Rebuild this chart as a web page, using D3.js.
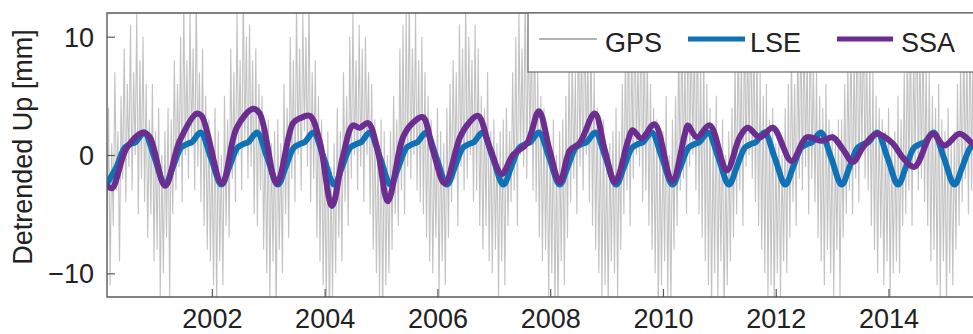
<!DOCTYPE html>
<html>
<head>
<meta charset="utf-8">
<script src="https://cdn.jsdelivr.net/npm/d3@7"></script>
<style>
  html, body { margin: 0; padding: 0; background: #fff; }
  svg { display: block; }
  text { font-family: "Liberation Sans", Arial, sans-serif; fill: #222; }
</style>
</head>
<body>
<svg id="chart" width="973" height="334"></svg>
<script>
// ---------------- data ----------------
const xTickYears = [2002, 2004, 2006, 2008, 2010, 2012, 2014];
const yTickValues = [-10, 0, 10];
const legendLabels = ["GPS", "LSE", "SSA"];

// GPS detrended Up: start year and sampling step (years), values in mm
const gpsStart = 2000.14;
const gpsStep = 1 / 36;
const gpsValues = [
  -8, 4, -11, 1, -6, 7, -3, 2, -9, 5, -2, 9, -4, 6, -1, 11, -3, 7, 0, 12, -5, 8, -2, 10, -4, 6, -7, 3, -5, 6, -9, 2, -8, 4, -12, 0,
  -10, 2, -7, 4, -12, 3, -5, 8, -3, 6, -1, 10, -4, 13, 0, 8, -2, 12, 1, 9, -3, 14, -1, 7, -4, 9, -6, 5, -8, 3, -9, 1, -11, 4, -13, 2,
  -9, 0, -11, 5, -6, 3, -7, 9, -2, 7, -4, 12, 0, 8, -3, 14, 1, 10, -2, 11, -1, 8, -5, 9, -6, 6, -3, 5, -8, 2, -10, 3, -12, 1, -9, 2,
  -14, 3, -8, 1, -10, 6, -5, 4, -7, 10, -2, 8, -4, 13, 0, 9, -3, 12, 2, 10, -1, 14, -4, 7, -2, 8, -7, 5, -9, 3, -11, 0, -13, 2, -15, -1,
  -12, 1, -10, 4, -7, 2, -9, 7, -4, 5, -6, 10, -2, 12, 0, 8, -3, 11, -1, 9, -4, 10, 0, 7, -5, 6, -8, 3, -10, 1, -12, 3, -14, 2, -11, 0,
  -10, 2, -8, 5, -5, 3, -6, 9, -3, 11, -5, 12, -1, 14, -2, 9, 0, 12, -3, 8, -4, 10, -5, 7, -7, 5, -9, 3, -10, 1, -7, 4, -12, 2, -9, 1,
  -11, 4, -7, 6, -4, 8, -2, 7, -6, 11, -1, 9, -3, 13, -2, 10, 0, 8, -4, 11, -3, 9, -6, 5, -8, 4, -6, 7, -9, 2, -10, 3, -8, 1, -12, 2,
  -9, 3, -11, 4, -6, 2, -4, 7, -3, 10, -6, 12, 0, 9, -1, 14, -2, 11, 1, 10, -3, 12, -4, 7, -7, 5, -9, 4, -8, 2, -12, 1, -10, 3, -13, 0,
  -14, 2, -9, 3, -11, 5, -7, 8, -4, 9, -2, 7, -5, 12, -1, 10, -3, 13, 0, 9, -4, 11, -6, 7, -8, 4, -10, 2, -12, 3, -11, 0, -13, 1, -9, 2,
  -10, 4, -12, 2, -8, 6, -5, 9, -3, 12, -6, 10, -2, 13, 0, 8, -1, 14, -4, 11, -3, 9, -6, 6, -8, 4, -10, 3, -13, 1, -11, 2, -9, 5, -12, 0,
  -13, 3, -8, 5, -6, 10, -3, 12, -2, 9, -5, 14, -1, 11, 0, 10, -3, 12, -5, 8, -7, 9, -9, 6, -11, 4, -13, 2, -10, 5, -12, 1, -9, 3, -14, 0,
  -11, 2, -9, 4, -7, 8, -5, 11, -3, 9, -6, 12, -1, 10, 0, 13, -2, 11, -4, 9, -6, 7, -8, 5, -10, 6, -12, 3, -11, 4, -13, 1, -10, 2, -12, 0,
  -9, 4, -10, 6, -7, 9, -4, 6, -6, 10, -2, 12, -3, 11, -1, 9, -5, 13, -2, 8, -4, 7, -7, 5, -9, 4, -11, 6, -8, 3, -10, 2, -12, 1, -8, 3,
  -12, 3, -7, 6, -5, 8, -3, 11, -5, 9, -2, 13, -4, 10, 0, 12, -2, 9, -3, 8, -6, 7, -8, 5, -10, 4, -7, 3, -11, 2, -9, 4, -12, 1, -10, 2,
  -9, 5, -10, 3, -6, 7, -5, 10, -3, 12, -6, 9, -1, 14, -3, 10, -2, 11, -4, 8, -6, 7, -9, 5, -8, 4, -11, 6, -12, 3, -9, 2, -13, 4, -10, 1,
  -11, 2, -8, 6, -6, 8, -4, 10, -2, 9, -5, 12, -3, 11, -1, 8, -4, 10, -6, 7, -8, 5, -7, 4
];

// LSE (seasonal model) key points
const lseYears = [
  2000.14, 2000.31, 2000.45, 2000.55, 2000.65, 2000.80, 2000.98,
  2001.17, 2001.31, 2001.45, 2001.55, 2001.65, 2001.80, 2001.98,
  2002.17, 2002.31, 2002.45, 2002.55, 2002.65, 2002.80, 2002.98,
  2003.17, 2003.31, 2003.45, 2003.55, 2003.65, 2003.80, 2003.98,
  2004.17, 2004.31, 2004.45, 2004.55, 2004.65, 2004.80, 2004.98,
  2005.17, 2005.31, 2005.45, 2005.55, 2005.65, 2005.80, 2005.98,
  2006.17, 2006.31, 2006.45, 2006.55, 2006.65, 2006.80, 2006.98,
  2007.17, 2007.31, 2007.45, 2007.55, 2007.65, 2007.80, 2007.98,
  2008.17, 2008.31, 2008.45, 2008.55, 2008.65, 2008.80, 2008.98,
  2009.17, 2009.31, 2009.45, 2009.55, 2009.65, 2009.80, 2009.98,
  2010.17, 2010.31, 2010.45, 2010.55, 2010.65, 2010.80, 2010.98,
  2011.17, 2011.31, 2011.45, 2011.55, 2011.65, 2011.80, 2011.98,
  2012.17, 2012.31, 2012.45, 2012.55, 2012.65, 2012.80, 2012.98,
  2013.17, 2013.31, 2013.45, 2013.55, 2013.65, 2013.80, 2013.98,
  2014.17, 2014.31, 2014.45, 2014.55, 2014.65, 2014.80, 2014.98,
  2015.17, 2015.31, 2015.45, 2015.55, 2015.65, 2015.80
];
const lseValues = [
  -2.4, -1.0, 0.6, 0.9, 1.1, 1.9, -0.2,
  -2.5, -1.0, 0.6, 0.9, 1.1, 1.9, -0.2,
  -2.5, -1.0, 0.6, 0.9, 1.1, 1.9, -0.2,
  -2.5, -1.0, 0.6, 0.9, 1.1, 1.9, -0.2,
  -2.5, -1.0, 0.6, 0.9, 1.1, 1.9, -0.2,
  -2.5, -1.0, 0.6, 0.9, 1.1, 1.9, -0.2,
  -2.5, -1.0, 0.6, 0.9, 1.1, 1.9, -0.2,
  -2.5, -1.0, 0.6, 0.9, 1.1, 1.9, -0.2,
  -2.5, -1.0, 0.6, 0.9, 1.1, 1.9, -0.2,
  -2.5, -1.0, 0.6, 0.9, 1.1, 1.9, -0.2,
  -2.5, -1.0, 0.6, 0.9, 1.1, 1.9, -0.2,
  -2.5, -1.0, 0.6, 0.9, 1.1, 1.9, -0.2,
  -2.5, -1.0, 0.6, 0.9, 1.1, 1.9, -0.2,
  -2.5, -1.0, 0.6, 0.9, 1.1, 1.9, -0.2,
  -2.5, -1.0, 0.6, 0.9, 1.1, 1.9, -0.2,
  -2.5, -1.0, 0.6, 0.9, 1.1, 1.9
];

// SSA reconstruction key points
const ssaYears = [
  2000.14, 2000.23, 2000.49, 2000.78, 2000.90, 2001.17, 2001.43, 2001.73, 2001.82,
  2002.18, 2002.44, 2002.73, 2002.85, 2003.15, 2003.44, 2003.56, 2003.74, 2003.91,
  2004.13, 2004.32, 2004.50, 2004.62, 2004.77, 2004.94, 2005.12, 2005.39, 2005.56,
  2005.74, 2005.92, 2006.13, 2006.40, 2006.54, 2006.72, 2006.93, 2007.14, 2007.34,
  2007.59, 2007.80, 2007.99, 2008.17, 2008.35, 2008.52, 2008.79, 2008.97, 2009.15,
  2009.38, 2009.46, 2009.62, 2009.85, 2010.16, 2010.39, 2010.44, 2010.60, 2010.83,
  2011.13, 2011.36, 2011.50, 2011.72, 2011.95, 2012.28, 2012.55, 2012.82, 2013.01,
  2013.19, 2013.37, 2013.54, 2013.79, 2014.07, 2014.25, 2014.46, 2014.78, 2014.99,
  2015.26, 2015.48, 2015.80
];
const ssaValues = [
  -2.6, -2.8, 0.6, 1.9, 1.5, -2.6, 1.2, 3.5, 3.3,
  -2.4, 2.3, 3.9, 3.5, -2.4, 2.7, 3.1, 3.3, 1.2,
  -4.3, -0.2, 2.5, 2.3, 2.7, 0.4, -3.9, 1.5, 2.7,
  3.2, 0.4, -2.4, 1.5, 2.6, 3.3, 0.6, -1.6, 0.0,
  1.0, 3.7, 0.4, -2.3, 0.4, 1.0, 3.5, 0.4, -2.3,
  1.2, 2.1, 1.4, 2.6, -2.2, 1.8, 2.5, 1.5, 2.5,
  -1.3, 1.5, 2.3, 1.5, 2.3, -0.5, 1.5, 1.2, 1.5,
  0.5, -0.6, 0.6, 1.8, 1.0, -0.2, -1.0, 1.8, 0.8,
  1.8, 1.0, -0.5
];

// ---------------- drawing ----------------
const svg = d3.select("#chart");
const plot = { left: 107, right: 990, top: 13, bottom: 297 };

const x = d3.scaleLinear().domain([2000.14, 2015.8]).range([plot.left, plot.right]);
const y = d3.scaleLinear().domain([-12, 12]).range([plot.bottom, plot.top]);

svg.append("defs").append("clipPath").attr("id", "clip")
  .append("rect")
  .attr("x", plot.left).attr("y", plot.top)
  .attr("width", plot.right - plot.left).attr("height", plot.bottom - plot.top);

const gData = svg.append("g").attr("clip-path", "url(#clip)");

const gpsPts = gpsValues.map((v, i) => [gpsStart + i * gpsStep, v]);
const lsePts = lseYears.map((t, i) => [t, lseValues[i]]);
const ssaPts = ssaYears.map((t, i) => [t, ssaValues[i]]);

const lineLin = d3.line().x(d => x(d[0])).y(d => y(d[1]));
const lineSmooth = d3.line().x(d => x(d[0])).y(d => y(d[1])).curve(d3.curveCatmullRom.alpha(0.5));

gData.append("path").datum(gpsPts)
  .attr("d", lineLin)
  .attr("fill", "none")
  .attr("stroke", "#b3b3b3")
  .attr("stroke-width", 1.1)
  .attr("stroke-opacity", 0.8);

gData.append("path").datum(lsePts)
  .attr("d", lineSmooth)
  .attr("fill", "none")
  .attr("stroke", "#0f72b6")
  .attr("stroke-width", 6)
  .attr("stroke-linejoin", "round")
  .attr("stroke-linecap", "round");

gData.append("path").datum(ssaPts)
  .attr("d", lineSmooth)
  .attr("fill", "none")
  .attr("stroke", "#6c2d90")
  .attr("stroke-width", 6)
  .attr("stroke-linejoin", "round")
  .attr("stroke-linecap", "round");

// axes
const axisColor = "#5a5a5a";
const fontSize = 27;

const xAxis = d3.axisBottom(x).tickValues(xTickYears).tickFormat(d3.format("d")).tickSize(-8);
const gx = svg.append("g").attr("transform", `translate(0,${plot.bottom})`).call(xAxis);
gx.select(".domain").remove();
gx.selectAll(".tick line").attr("stroke", axisColor).attr("stroke-width", 1.2);
gx.selectAll(".tick text")
  .attr("y", 31).attr("dy", null)
  .style("font-size", fontSize + "px")
  .style("font-family", '"Liberation Sans", Arial, sans-serif')
  .attr("fill", "#222");

const yAxis = d3.axisLeft(y).tickValues(yTickValues).tickSize(-8);
const gy = svg.append("g").attr("transform", `translate(${plot.left},0)`).call(yAxis);
gy.select(".domain").remove();
gy.selectAll(".tick line").attr("stroke", axisColor).attr("stroke-width", 1.2);
gy.selectAll(".tick text")
  .attr("x", -13).attr("dy", "0.35em")
  .style("font-size", fontSize + "px")
  .style("font-family", '"Liberation Sans", Arial, sans-serif')
  .attr("fill", "#222");

// frame
svg.append("path")
  .attr("d", `M${plot.right},${plot.top}H${plot.left}V${plot.bottom}H${plot.right}`)
  .attr("fill", "none").attr("stroke", axisColor).attr("stroke-width", 1.4);

// y label
svg.append("text")
  .attr("transform", `translate(32,${(plot.top + plot.bottom) / 2 - 8}) rotate(-90)`)
  .attr("text-anchor", "middle")
  .style("font-size", fontSize + "px")
  .text("Detrended Up [mm]");

// legend
const lg = svg.append("g");
lg.append("rect")
  .attr("x", 528).attr("y", plot.top).attr("width", 470).attr("height", 59)
  .attr("fill", "#fff").attr("stroke", "#6a6a6a").attr("stroke-width", 1.2);
const legendItems = [
  { label: legendLabels[0], color: "#9a9a9a", width: 1.5, x0: 539, x1: 597, tx: 605 },
  { label: legendLabels[1], color: "#0f72b6", width: 5, x0: 688, x1: 745, tx: 750 },
  { label: legendLabels[2], color: "#6c2d90", width: 5, x0: 837, x1: 893, tx: 901 }
];
legendItems.forEach(it => {
  lg.append("line")
    .attr("x1", it.x0).attr("x2", it.x1).attr("y1", 39).attr("y2", 39)
    .attr("stroke", it.color).attr("stroke-width", it.width);
  lg.append("text")
    .attr("x", it.tx).attr("y", 52)
    .style("font-size", fontSize + "px")
    .text(it.label);
});
</script>
</body>
</html>
